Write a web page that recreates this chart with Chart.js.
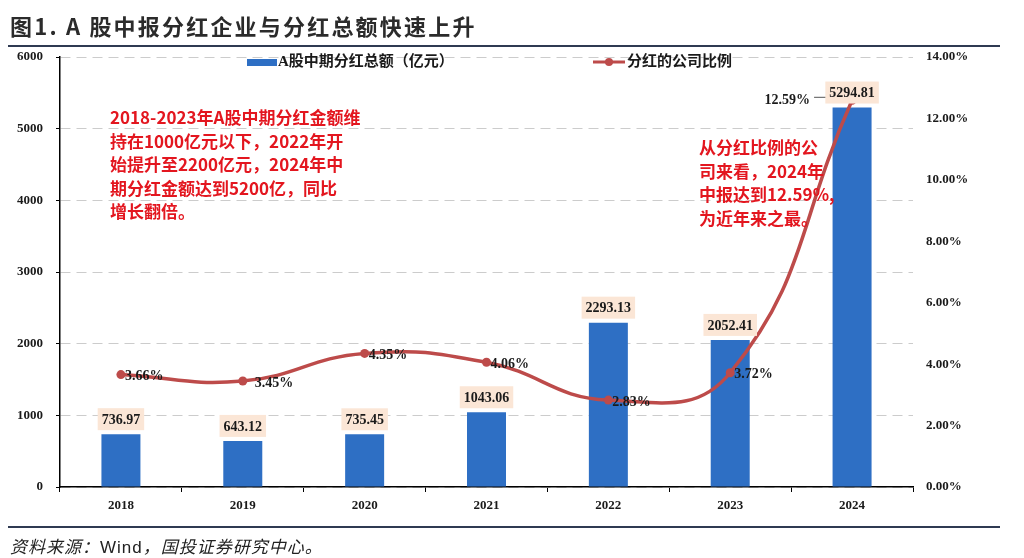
<!DOCTYPE html>
<html>
<head>
<meta charset="utf-8">
<script src="https://cdn.jsdelivr.net/npm/chart.js@4.4.1/dist/chart.umd.min.js"></script>
<style>
    body { margin: 0; background: #fff; }
    #wrap { position: relative; width: 1024px; height: 558px; overflow: hidden; }
    #title {
        position: absolute; left: 10px; top: 9px;
        font: bold 22px "Noto Sans CJK SC", sans-serif; letter-spacing: 2.2px; color: #2b2b2b;
    }
    .rule { position: absolute; left: 8px; width: 992px; height: 2px; background: #2f3a52; }
    #source {
        position: absolute; left: 10px; top: 533px;
        font: italic 17px "Noto Sans CJK SC", sans-serif; letter-spacing: 1px; color: #222;
    }
    #source span { font-family: "Liberation Sans", Arial, sans-serif; font-style: normal; }
</style>
</head>
<body>
<div id="wrap">
    <canvas id="myChart" width="1024" height="558"></canvas>
    <div id="title">图1. A 股中报分红企业与分红总额快速上升</div>
    <div class="rule" style="top:45px"></div>
    <div class="rule" style="top:526px"></div>
    <div id="source">资料来源：<span>Wind</span>，国投证券研究中心。</div>
</div>
<script>
// data
let years = ["2018", "2019", "2020", "2021", "2022", "2023", "2024"];
let dividendTotal = [736.97, 643.12, 735.45, 1043.06, 2293.13, 2052.41, 5294.81];
let companyRatio = [3.66, 3.45, 4.35, 4.06, 2.83, 3.72, 12.59];
let barLabel = "A股中期分红总额（亿元）";
let lineLabel = "分红的公司比例";

// note text
let leftNote = [
    "2018-2023年A股中期分红金额维",
    "持在1000亿元以下，2022年开",
    "始提升至2200亿元，2024年中",
    "期分红金额达到5200亿，同比",
    "增长翻倍。",
];
let rightNote = [
    "从分红比例的公",
    "司来看，2024年",
    "中报达到12.59%,",
    "为近年来之最。",
];

const BLUE = "#2e6fc4";
const RED = "#bd4b4a";
const SERIF = '"Liberation Serif", "Times New Roman", "Noto Sans CJK SC", serif';

// labels, legend and notes drawn on top
const extras = {
    id: "extras",
    afterDatasetsDraw(chart) {
        const ctx = chart.ctx;
        ctx.save();

        // line value labels
        const lineMeta = chart.getDatasetMeta(1);
        ctx.font = "bold 14px " + SERIF;
        ctx.fillStyle = "#1a1a1a";
        ctx.textBaseline = "middle";
        lineMeta.data.forEach((pt, i) => {
            const txt = companyRatio[i].toFixed(2) + "%";
            if (i === companyRatio.length - 1) {
                ctx.textAlign = "right";
                ctx.fillText(txt, pt.x - 42, pt.y);
                ctx.strokeStyle = "#555";
                ctx.lineWidth = 1;
                ctx.beginPath();
                ctx.moveTo(pt.x - 38, pt.y - 3);
                ctx.lineTo(pt.x - 3, pt.y - 3);
                ctx.stroke();
            } else {
                ctx.textAlign = "left";
                ctx.fillText(txt, pt.x + (i === 1 ? 12 : 4), pt.y + 2);
            }
        });

        // bar value labels with peach box
        const barMeta = chart.getDatasetMeta(0);
        barMeta.data.forEach((bar, i) => {
            const txt = dividendTotal[i].toFixed(2);
            ctx.font = "bold 14px " + SERIF;
            const w = ctx.measureText(txt).width + 8;
            const cy = bar.y - 15;
            ctx.fillStyle = "#fbe6d6";
            ctx.fillRect(bar.x - w / 2, cy - 11, w, 22);
            ctx.fillStyle = "#1a1a1a";
            ctx.textAlign = "center";
            ctx.textBaseline = "middle";
            ctx.fillText(txt, bar.x, cy + 1);
        });

        // legend
        ctx.fillStyle = BLUE;
        ctx.fillRect(247, 59, 30, 7);
        ctx.font = "bold 15px " + SERIF;
        ctx.fillStyle = "#1a1a1a";
        ctx.textAlign = "left";
        ctx.textBaseline = "middle";
        ctx.fillText(barLabel, 278, 62);
        ctx.strokeStyle = RED;
        ctx.lineWidth = 3;
        ctx.beginPath();
        ctx.moveTo(593, 62);
        ctx.lineTo(625, 62);
        ctx.stroke();
        ctx.fillStyle = RED;
        ctx.beginPath();
        ctx.arc(609, 62, 4, 0, Math.PI * 2);
        ctx.fill();
        ctx.fillStyle = "#1a1a1a";
        ctx.fillText(lineLabel, 627, 62);

        // red notes
        ctx.fillStyle = "#e3161f";
        ctx.font = 'bold 17px "Noto Sans CJK SC", sans-serif';
        leftNote.forEach((s, i) => ctx.fillText(s, 110, 118 + i * 23.5));
        rightNote.forEach((s, i) => ctx.fillText(s, 699, 148 + i * 23.5));

        ctx.restore();
    },
};

const ctx = document.getElementById("myChart");
const myChart = new Chart(ctx, {
    data: {
        labels: years,
        datasets: [
            {
                type: "bar",
                label: barLabel,
                data: dividendTotal,
                backgroundColor: BLUE,
                yAxisID: "y",
                order: 1,
                categoryPercentage: 1,
                barPercentage: 0.32,
            },
            {
                type: "line",
                label: lineLabel,
                data: companyRatio,
                borderColor: RED,
                backgroundColor: RED,
                borderWidth: 3.5,
                pointRadius: 4.5,
                pointBackgroundColor: RED,
                pointBorderWidth: 0,
                tension: 0.45,
                yAxisID: "y1",
                order: 0,
            },
        ],
    },
    options: {
        responsive: false,
        animation: false,
        layout: { padding: { left: 0, right: 0, top: 57, bottom: 0 } },
        plugins: {
            legend: { display: false },
            tooltip: { enabled: false },
        },
        scales: {
            x: {
                afterFit: (scale) => { scale.height = 71; },
                grid: { drawOnChartArea: false, drawTicks: true, tickLength: 5, color: "#000", offset: true },
                border: { display: true, color: "#000", width: 1.5 },
                ticks: { padding: 6, color: "#1a1a1a", font: { family: SERIF, size: 13, weight: "bold" } },
            },
            y: {
                position: "left",
                min: 0,
                max: 6000,
                afterFit: (scale) => { scale.width = 60; },
                ticks: {
                    stepSize: 1000,
                    padding: 13,
                    color: "#1a1a1a",
                    font: { family: SERIF, size: 13, weight: "bold" },
                    callback: (v) => String(v),
                },
                grid: { color: "#cccccc", tickColor: "#000", tickLength: 4, lineWidth: 1 },
                border: { display: true, color: "#000", width: 1.5, dash: [10, 6] },
            },
            y1: {
                position: "right",
                min: 0,
                max: 14,
                afterFit: (scale) => { scale.width = 111; },
                ticks: {
                    stepSize: 2,
                    padding: 13,
                    color: "#1a1a1a",
                    font: { family: SERIF, size: 13, weight: "bold" },
                    callback: (v) => v.toFixed(2) + "%",
                },
                grid: { display: false, drawTicks: false },
                border: { display: false },
            },
        },
    },
    plugins: [extras],
});
</script>
</body>
</html>
